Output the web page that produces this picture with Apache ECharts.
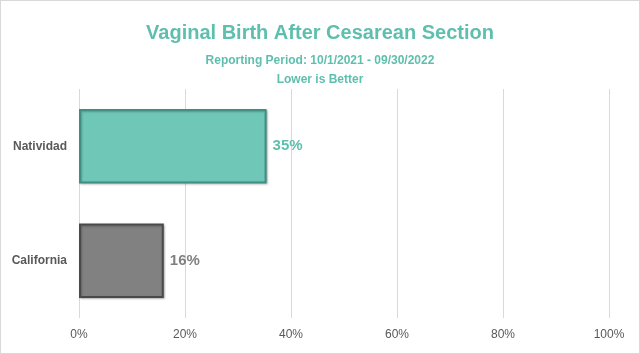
<!DOCTYPE html>
<html>
<head>
<meta charset="utf-8">
<script src="https://cdn.jsdelivr.net/npm/echarts@6/dist/echarts.min.js"></script>
<style>
    html, body { margin: 0; padding: 0; background: #fff; }
    #chart { width: 638px; height: 352px; border: 1px solid #d9d9d9; }
</style>
</head>
<body>
<div id="chart"></div>
<script>
    // 数据
    var categories = ['California', 'Natividad'];
    var values = [16, 35.4];
    var barColors = ['#818181', '#6fc7b8'];
    var borderColors = ['#4a4a4a', '#3f8f82'];
    var labelColors = ['#808080', '#5fbfae'];
    var xTicks = [0, 20, 40, 60, 80, 100];

    var chart = echarts.init(document.getElementById('chart'));

    var seriesData = [];
    for (var i = 0; i < values.length; i++) {
        seriesData.push({
            value: values[i],
            itemStyle: {
                color: barColors[i],
                borderColor: borderColors[i],
                borderWidth: 2,
                shadowColor: 'rgba(0,0,0,0.25)',
                shadowBlur: 2,
                shadowOffsetX: 1,
                shadowOffsetY: 1
            },
            label: { color: labelColors[i] }
        });
    };

    var option = {
        title: [{
            text: 'Vaginal Birth After Cesarean Section',
            left: 'center',
            top: 17,
            textStyle: { fontFamily: 'Liberation Sans', fontSize: 20, fontWeight: 'bold', color: '#5fbfae' }
        }, {
            text: 'Reporting Period: 10/1/2021 - 09/30/2022',
            left: 'center',
            top: 49,
            textStyle: { fontFamily: 'Liberation Sans', fontSize: 12, fontWeight: 'bold', color: '#5fbfae' }
        }, {
            text: 'Lower is Better',
            left: 'center',
            top: 68,
            textStyle: { fontFamily: 'Liberation Sans', fontSize: 12, fontWeight: 'bold', color: '#5fbfae' }
        }],
        grid: {
            left: 78,
            right: 30,
            top: 88,
            bottom: 35,
            containLabel: false
        },
        xAxis: {
            type: 'value',
            min: 0,
            max: 100,
            interval: 20,
            axisLine: { show: false },
            axisTick: { show: false },
            axisLabel: {
                margin: 11,
                fontFamily: 'Liberation Sans',
                fontSize: 12,
                color: '#595959',
                formatter: function (v) {
                    return xTicks.indexOf(v) >= 0 ? v + '%' : '';
                }
            },
            splitLine: { show: true, lineStyle: { color: '#d9d9d9', width: 1 } }
        },
        yAxis: {
            type: 'category',
            data: categories,
            axisLine: { show: false },
            axisTick: { show: false },
            axisLabel: {
                margin: 12,
                fontFamily: 'Liberation Sans',
                fontSize: 12,
                fontWeight: 'bold',
                color: '#595959'
            }
        },
        series: [{
            type: 'bar',
            data: seriesData,
            barWidth: '65%',
            label: {
                show: true,
                position: 'right',
                distance: 6,
                fontFamily: 'Liberation Sans',
                fontSize: 15,
                fontWeight: 'bold',
                formatter: function (p) {
                    return Math.round(p.value) + '%';
                }
            }
        }]
    };
    chart.setOption(option);
</script>
</body>
</html>
